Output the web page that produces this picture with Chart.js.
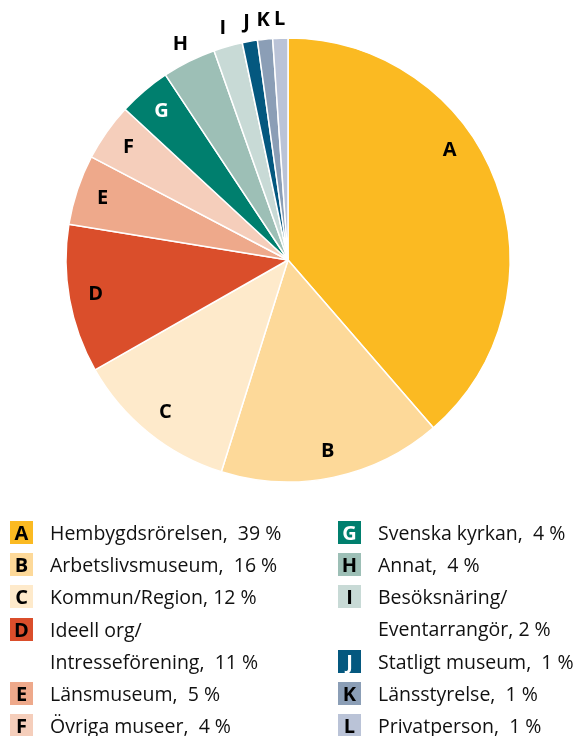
<!DOCTYPE html>
<html lang="sv">
<head>
  <meta charset="UTF-8">
  <title>Huvudman</title>
  <script src="https://cdn.jsdelivr.net/npm/chart.js"></script>
  <style>
    html, body {
      margin: 0;
      padding: 0;
      background: #fff;
      width: 582px;
      height: 736px;
      overflow: hidden;
      font-family: "Open Sans", "Noto Sans", sans-serif;
    }

    .chart-box {
      position: absolute;
      left: 0;
      top: 0;
      width: 576px;
      height: 520px;
    }

    .legend {
      position: absolute;
      top: 517px;
      font-size: 19.5px;
      color: #111;
    }

    .legend .row {
      display: flex;
      align-items: flex-start;
      height: 32.2px;
      line-height: 32px;
    }

    .legend .row.two {
      height: 64.4px;
    }

    .legend .sw {
      width: 23px;
      height: 23px;
      margin-top: 4px;
      margin-right: 17px;
      flex: none;
      font-weight: 700;
      font-size: 20px;
      line-height: 23px;
      text-align: center;
    }
  </style>
</head>
<body>
  <div class="chart-box">
    <canvas id="chartHuvudman"></canvas>
  </div>
  <div class="legend" id="legendLeft" style="left:10px"></div>
  <div class="legend" id="legendRight" style="left:338px"></div>

  <script>
    const letters = ['A', 'B', 'C', 'D', 'E', 'F', 'G', 'H', 'I', 'J', 'K', 'L'];
    const categories = [
      'Hembygdsrörelsen,\u00a0 39 %',
      'Arbetslivsmuseum,\u00a0 16 %',
      'Kommun/Region, 12 %',
      'Ideell org/<br>Intresseförening,\u00a0 11 %',
      'Länsmuseum,\u00a0 5 %',
      'Övriga museer,\u00a0 4 %',
      'Svenska kyrkan,\u00a0 4 %',
      'Annat,\u00a0 4 %',
      'Besöksnäring/<br>Eventarrangör, 2 %',
      'Statligt museum,\u00a0 1 %',
      'Länsstyrelse,\u00a0 1 %',
      'Privatperson,\u00a0 1 %'
    ];
    const values = [38.6, 16.2, 11.9, 10.8, 5.1, 4.2, 3.8, 3.9, 2.1, 1.1, 1.1, 1.1];
    const colors = ['#fbba22', '#fdd999', '#feeacb', '#da4e2b', '#eea98b', '#f5cebb',
                    '#007f6e', '#9dbfb6', '#c8dad6', '#04587f', '#8b9eb6', '#bac3d7'];
    const letterColors = ['#000', '#000', '#000', '#000', '#000', '#000',
                          '#fff', '#000', '#000', '#fff', '#000', '#000'];
    // labels outside the pie for the small slices
    const outside = [false, false, false, false, false, false, false, true, true, true, true, true];

    // letters on the slices
    const sliceLetters = {
      id: 'sliceLetters',
      afterDatasetsDraw(chart) {
        const ctx = chart.ctx;
        const arcs = chart.getDatasetMeta(0).data;
        ctx.save();
        ctx.font = 'bold 20px "Open Sans", "Noto Sans", sans-serif';
        ctx.textAlign = 'center';
        ctx.textBaseline = 'middle';
        arcs.forEach((arc, i) => {
          let mid = (arc.startAngle + arc.endAngle) / 2;
          if (i === 0) mid -= 0.24;
          const r = outside[i] ? arc.outerRadius + 19 : arc.outerRadius * 0.88;
          ctx.fillStyle = outside[i] ? '#000' : letterColors[i];
          ctx.fillText(letters[i], arc.x + Math.cos(mid) * r, arc.y + Math.sin(mid) * r);
        });
        ctx.restore();
      }
    };

    new Chart(document.getElementById('chartHuvudman').getContext('2d'), {
      type: 'pie',
      data: {
        labels: letters,
        datasets: [{
          data: values,
          backgroundColor: colors,
          borderColor: '#fff',
          borderWidth: 1.5
        }]
      },
      options: {
        responsive: true,
        maintainAspectRatio: false,
        animation: false,
        radius: 222,
        layout: { padding: 38 },
        plugins: {
          legend: { display: false },
          tooltip: { enabled: false }
        }
      },
      plugins: [sliceLetters]
    });

    // legend, two columns
    function legendRow(i) {
      const two = categories[i].includes('<br>') ? ' two' : '';
      return `<div class="row${two}">` +
        `<div class="sw" style="background:${colors[i]};color:${letterColors[i]}">${letters[i]}</div>` +
        `<div>${categories[i]}</div></div>`;
    }
    document.getElementById('legendLeft').innerHTML = [0, 1, 2, 3, 4, 5].map(legendRow).join('');
    document.getElementById('legendRight').innerHTML = [6, 7, 8, 9, 10, 11].map(legendRow).join('');
  </script>
</body>
</html>
